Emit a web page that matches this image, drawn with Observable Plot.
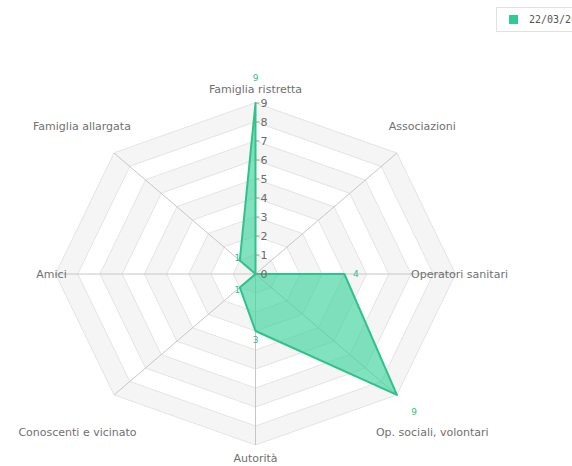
<!DOCTYPE html>
<html>
<head>
<meta charset="utf-8">
<script src="https://cdn.jsdelivr.net/npm/d3@7"></script>
<script src="https://cdn.jsdelivr.net/npm/@observablehq/plot@0.6"></script>
<style>
  html, body { margin: 0; padding: 0; background: #fff; width: 572px; height: 466px; overflow: hidden; }
  #wrap { position: relative; width: 572px; height: 466px; }
  #chart { position: absolute; left: 0; top: 0; }
  #legend { position: absolute; left: 496px; top: 7px; height: 25px; border: 1px solid #e2e2e2; background: #fff;
            white-space: nowrap; font-family: "DejaVu Sans Mono", monospace; font-size: 10px; color: #555;
            display: flex; align-items: center; padding: 0 12px 0 12px; box-sizing: border-box; }
  #legend .sw { display: inline-block; width: 9px; height: 9px; background: #2fcb93; margin-right: 11px; }
</style>
</head>
<body>
<div id="wrap">
  <div id="chart"></div>
  <div id="legend"><span class="sw"></span><span id="legtext"></span></div>
</div>
<script>
const categories = ["Famiglia ristretta", "Associazioni", "Operatori sanitari", "Op. sociali, volontari",
                    "Autorità", "Conoscenti e vicinato", "Amici", "Famiglia allargata"];
const values = [9, 0, 4, 9, 3, 1, 0, 1];
const tickValues = [0, 1, 2, 3, 4, 5, 6, 7, 8, 9];
const seriesLabel = "22/03/2021";
const maxValue = 9;

document.getElementById("legtext").textContent = seriesLabel;

const W = 572, H = 466;
const cx = 255, cy = 273.5, rx = 200, ry = 171;
const pxX = rx / maxValue, pxY = ry / maxValue;
const n = categories.length;
const ang = i => i * 2 * Math.PI / n;
const px = (i, v) => v * Math.sin(ang(i));
const py = (i, v) => v * Math.cos(ang(i));

const labelFont = "11px 'DejaVu Sans'";
const ctx = document.createElement("canvas").getContext("2d");
ctx.font = labelFont;
const textW = t => ctx.measureText(t).width;

// ring polygons
const rings = [];
for (let k = maxValue; k >= 1; k--) {
  for (let i = 0; i < n; i++) rings.push({ring: k, x: px(i, k), y: py(i, k)});
}
const spokes = categories.map((c, i) => ({x2: px(i, maxValue), y2: py(i, maxValue)}));
const series = values.map((v, i) => ({cat: categories[i], v, x: px(i, v), y: py(i, v)}));

const labels = categories.map((c, i) => {
  const s = Math.sin(ang(i)), co = Math.cos(ang(i));
  let x, y, anchor = "middle";
  if (Math.abs(co) < 0.01) { x = Math.sign(s) * 204 / pxX; y = 0; anchor = s > 0 ? "start" : "end"; }
  else if (Math.abs(s) < 0.01) { x = 0; y = Math.sign(co) * 184.5 / pxY; }
  else {
    x = Math.sign(s) * (152 + 0.22 * textW(c)) / pxX;
    y = co > 0 ? 148 / pxY : -158.5 / pxY;
  }
  return {text: c, x, y, anchor};
});

const dataLabels = series.filter(d => d.v > 0).map(d => {
  const i = categories.indexOf(d.cat);
  const off = 1 + 2.6 * d.v;
  return {text: String(d.v), x: d.x + off * Math.sin(ang(i)) / pxX, y: d.y + off * Math.cos(ang(i)) / pxY};
});

const tickLen = 4 / pxX;

const plot = Plot.plot({
  width: W, height: H,
  marginTop: 0, marginRight: 0, marginBottom: 0, marginLeft: 0,
  x: {domain: [-maxValue, maxValue], range: [cx - rx, cx + rx], axis: null},
  y: {domain: [-maxValue, maxValue], range: [cy + ry, cy - ry], axis: null},
  style: {fontFamily: "DejaVu Sans, sans-serif", background: "transparent"},
  marks: [
    ...d3.range(maxValue, 0, -1).map(k =>
      Plot.line(rings.filter(d => d.ring === k), {x: "x", y: "y", curve: "linear-closed",
        fill: k % 2 === 1 ? "#f5f5f5" : "#ffffff", stroke: "#e4e4e4", strokeWidth: 1})
    ),
    Plot.link(spokes, {x1: 0, y1: 0, x2: "x2", y2: "y2", stroke: "#c6c6c6", strokeWidth: 1}),
    Plot.line(series, {x: "x", y: "y", curve: "linear-closed", fill: "#3dd39c", fillOpacity: 0.65,
      stroke: "#2fc28c", strokeWidth: 2, strokeLinejoin: "round"}),
    Plot.link(tickValues, {x1: 0, x2: tickLen, y1: d => d, y2: d => d, stroke: "#999", strokeWidth: 1}),
    Plot.text(tickValues, {x: tickLen, y: d => d, text: d => String(d), textAnchor: "start", dx: 1,
      fontSize: 11, fill: "#6a6a6a"}),
    Plot.text(dataLabels, {x: "x", y: "y", text: "text", fontSize: 9, fill: "#2fbf8a"}),
    Plot.text(labels, {x: "x", y: "y", text: "text", textAnchor: "anchor", fontSize: 11, fill: "#707070"})
  ]
});
document.getElementById("chart").appendChild(plot);
</script>
</body>
</html>
